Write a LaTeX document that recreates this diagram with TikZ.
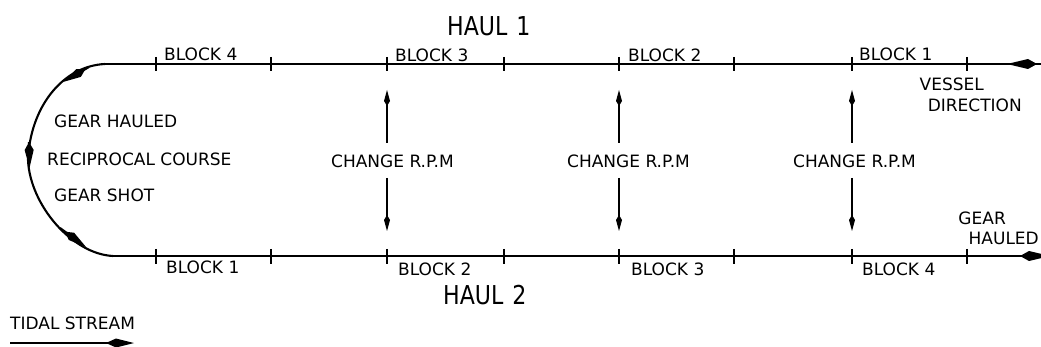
\documentclass[tikz,border=0pt]{standalone}
\usepackage{fontspec}
\setmainfont{DejaVu Sans}
\newfontfamily\haulfont{DejaVu Sans}[FakeStretch=0.85]
\usetikzlibrary{arrows.meta}
\begin{document}
\begin{tikzpicture}[x=1pt,y=-1pt,
  track/.style={line width=2.1pt},
  tickline/.style={line width=1.5pt},
  lbl/.style={anchor=west,inner sep=0pt,font=\fontsize{17}{17}\selectfont},
  lble/.style={anchor=east,inner sep=0pt,font=\fontsize{17}{17}\selectfont},
  haul/.style={anchor=west,inner sep=0pt,font=\haulfont\fontsize{26}{26}\selectfont},
  bighead/.style={-{Kite[length=30pt,width=10pt,inset=9pt]}},
  archead/.style={-{Kite[length=26pt,width=9pt,inset=8pt]}},
  rpmhead/.style={-{Kite[length=16pt,width=6pt,inset=5pt]}}
]
\useasboundingbox (0,0) rectangle (1041,347);

% main track
\coordinate (tl) at (105,64);
\coordinate (tr) at (1041,64);
\coordinate (lm) at (28,160);
\coordinate (bl) at (113,256);
\coordinate (br) at (1041,256);
\draw[track] (tl) -- (tr);
\draw[track] (bl) -- (br);
\draw[track] (tl) .. controls (62,66) and (30,108) .. (lm)
       .. controls (30,205) and (72,254) .. (bl);

% arrowheads along the turn
\coordinate (a1b) at (89,67);
\coordinate (a1t) at (63,82);
\coordinate (a2b) at (29,142);
\coordinate (a2t) at (29.5,168);
\coordinate (a3b) at (60,228);
\coordinate (a3t) at (86,247);
\draw[track,archead] (a1b) -- (a1t);
\draw[track,archead] (a2b) -- (a2t);
\draw[track,archead] (a3b) -- (a3t);

% end arrows
\coordinate (vdback) at (1041,64);
\coordinate (vdtip) at (1007,64);
\draw[track,bighead] (vdback) -- (vdtip);
\coordinate (ghback) at (1012,256);
\coordinate (ghtip) at (1050,256);
\begin{scope}
\clip (0,0) rectangle (1041,347);
\draw[track,bighead] (ghback) -- (ghtip);
\end{scope}

% ticks
\foreach \x in {156,271,387,504,619,734,852,967}{
  \draw[tickline] (\x,57) -- (\x,71);
  \draw[tickline] (\x,249) -- (\x,264);
}

% change rpm arrows
\foreach \x/\n in {387/a,619/b,852/c}{
  \coordinate (up\n a) at (\x,143);
  \coordinate (up\n b) at (\x,90);
  \coordinate (dn\n a) at (\x,178);
  \coordinate (dn\n b) at (\x,231);
  \draw[line width=1.6pt,rpmhead] (up\n a) -- (up\n b);
  \draw[line width=1.6pt,rpmhead] (dn\n a) -- (dn\n b);
}
\node[lbl] (rpma) at (331,161) {CHANGE R.P.M};
\node[lbl] (rpmb) at (567,161) {CHANGE R.P.M};
\node[lbl] (rpmc) at (793,161) {CHANGE R.P.M};

% block labels
\node[lbl] (t4) at (164,54.5) {BLOCK 4};
\node[lbl] (t3) at (395,55) {BLOCK 3};
\node[lbl] (t2) at (628,55) {BLOCK 2};
\node[lbl] (t1) at (859,54.5) {BLOCK 1};
\node[lbl] (b1) at (166,267.5) {BLOCK 1};
\node[lbl] (b2) at (398,269) {BLOCK 2};
\node[lbl] (b3) at (631,269) {BLOCK 3};
\node[lbl] (b4) at (862,269) {BLOCK 4};

% hauls
\node[haul] (h1) at (447,26.5) {HAUL\hspace{9pt}1};
\node[haul] (h2) at (443,295.5) {HAUL\hspace{9pt}2};

% left texts
\node[lbl] (gh) at (54,121) {GEAR HAULED};
\node[lbl] (rc) at (47,159) {RECIPROCAL COURSE};
\node[lbl] (gs) at (54,195) {GEAR SHOT};

% right texts
\node[lble] (ves) at (984,84) {VESSEL};
\node[lble] (dir) at (1022,105) {DIRECTION};
\node[lble] (gear) at (1006,218) {GEAR};
\node[lble] (hld) at (1039,238) {HAULED};

% tidal stream
\node[lbl] (tid) at (10,323) {TIDAL STREAM};
\coordinate (tsa) at (10,343);
\coordinate (tsb) at (134,343);
\draw[track,-{Kite[length=28pt,width=9pt,inset=10pt]}] (tsa) -- (tsb);
\end{tikzpicture}
\end{document}
